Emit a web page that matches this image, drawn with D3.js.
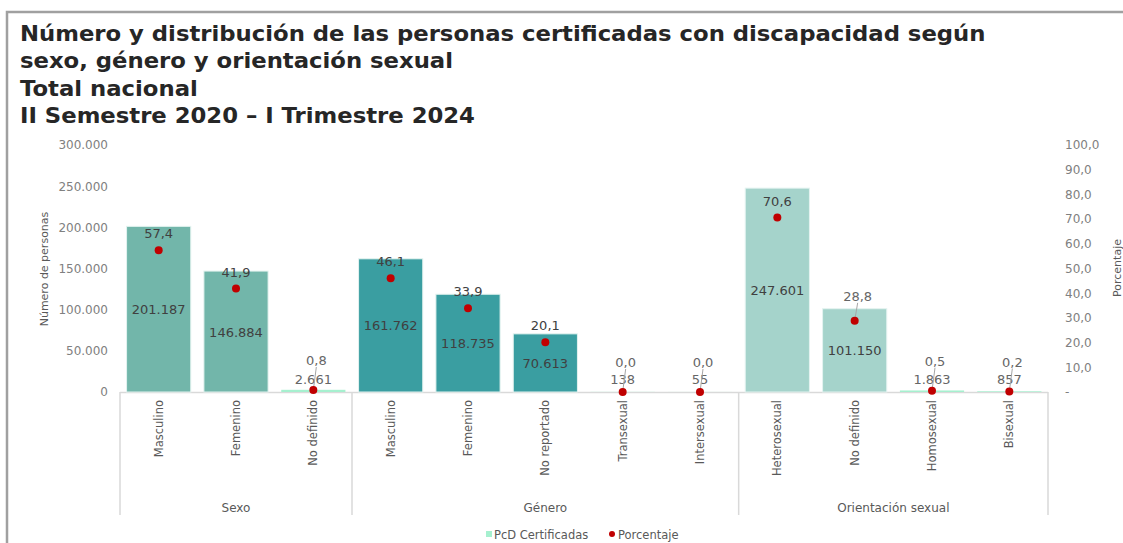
<!DOCTYPE html>
<html>
<head>
<meta charset="utf-8">
<script src="https://cdn.jsdelivr.net/npm/d3@7"></script>
<style>
  body { margin: 0; background: #fff; }
  svg { display: block; font-family: "DejaVu Sans", Verdana, sans-serif; }
</style>
</head>
<body>
<svg id="chart" width="1123" height="543"></svg>
<script>
// datos
var titleLines = [
  "Número y distribución de las personas certificadas con discapacidad según",
  "sexo, género y orientación sexual",
  "Total nacional",
  "II Semestre 2020 – I Trimestre 2024"
]
var groups = ["Sexo", "Género", "Orientación sexual"]
var categories = ["Masculino", "Femenino", "No definido",
  "Masculino", "Femenino", "No reportado", "Transexual", "Intersexual",
  "Heterosexual", "No definido", "Homosexual", "Bisexual"]
var categoryGroup = ["Sexo", "Sexo", "Sexo",
  "Género", "Género", "Género", "Género", "Género",
  "Orientación sexual", "Orientación sexual", "Orientación sexual", "Orientación sexual"]
var personas = [201187, 146884, 2661, 161762, 118735, 70613, 138, 55, 247601, 101150, 1863, 857]
var porcentaje = [57.4, 41.9, 0.8, 46.1, 33.9, 20.1, 0.0, 0.0, 70.6, 28.8, 0.5, 0.2]
var leftTicks = [0, 50000, 100000, 150000, 200000, 250000, 300000]
var rightTicks = [0, 10, 20, 30, 40, 50, 60, 70, 80, 90, 100]
var seriesNames = ["PcD Certificadas", "Porcentaje"]

var svg = d3.select("#chart")
var W = 1123, H = 543
var plotLeft = 120, plotRight = 1048, plotTop = 145, plotBottom = 392

var loc = d3.formatLocale({decimal: ",", thousands: ".", grouping: [3], currency: ["", ""]})
var fmtInt = loc.format(",d")
var fmtPct = loc.format(".1f")

var groupColor = {"Sexo": "#72b6aa", "Género": "#3a9ea1", "Orientación sexual": "#a5d3cb"}
var defaultColor = "#a6f0cf"
var labelGray = "#404040"
var axisGray = "#808080"
var lineGray = "#d9d9d9"

// marco
svg.append("path")
  .attr("d", "M7," + H + " L7,12 L" + W + ",12")
  .attr("fill", "none").attr("stroke", "#a0a0a0").attr("stroke-width", 2.5)

// titulo (Verdana es mas ancha que DejaVu, se estira un poco)
svg.append("g").attr("transform", "translate(20,0) scale(1.11,1)")
  .selectAll("text").data(titleLines).enter().append("text")
  .attr("x", 0)
  .attr("y", function(d, i) { return 41 + i * 27.4 })
  .attr("font-size", 20.5).attr("font-weight", "bold").attr("fill", "#262626")
  .text(function(d) { return d })

var x = d3.scaleBand().domain(d3.range(categories.length)).range([plotLeft, plotRight])
  .paddingInner(0.17).paddingOuter(0.085)
var y = d3.scaleLinear().domain([0, 300000]).range([plotBottom, plotTop])
var y2 = d3.scaleLinear().domain([0, 100]).range([plotBottom, plotTop])

// ejes
var yAxis = svg.append("g").attr("transform", "translate(" + (plotLeft - 12) + ",0)")
  .call(d3.axisLeft(y).tickValues(leftTicks).tickSize(0).tickPadding(0)
    .tickFormat(function(d) { return d === 0 ? "0" : fmtInt(d) }))
yAxis.select(".domain").remove()
yAxis.selectAll("text").attr("font-size", 12).attr("fill", axisGray).attr("font-family", "DejaVu Sans")

var y2Axis = svg.append("g").attr("transform", "translate(1065,0)")
  .call(d3.axisRight(y2).tickValues(rightTicks).tickSize(0).tickPadding(0)
    .tickFormat(function(d) { return d === 0 ? "-" : fmtPct(d) }))
y2Axis.select(".domain").remove()
y2Axis.selectAll("text").attr("font-size", 12).attr("fill", axisGray).attr("font-family", "DejaVu Sans")

svg.append("text").attr("transform", "translate(48,269) rotate(-90)")
  .attr("text-anchor", "middle").attr("font-size", 11).attr("fill", "#595959")
  .text("Número de personas")
svg.append("text").attr("transform", "translate(1121,268) rotate(-90)")
  .attr("text-anchor", "middle").attr("font-size", 11).attr("fill", "#595959")
  .text("Porcentaje")

// linea base y separadores de grupos
svg.append("line").attr("x1", plotLeft).attr("x2", plotRight)
  .attr("y1", plotBottom + 0.5).attr("y2", plotBottom + 0.5)
  .attr("stroke", lineGray).attr("stroke-width", 1.5)

var groupSpans = groups.map(function(g) {
  var idx = d3.range(categories.length).filter(function(i) { return categoryGroup[i] === g })
  var s = x(idx[0]) - x.step() * x.paddingInner() / 2
  var e = x(idx[idx.length - 1]) + x.bandwidth() + x.step() * x.paddingInner() / 2
  return {name: g, x0: s, x1: e}
})
var seps = [groupSpans[0].x0].concat(groupSpans.map(function(d) { return d.x1 }))
svg.append("g").selectAll("line").data(seps).enter().append("line")
  .attr("x1", function(d) { return d }).attr("x2", function(d) { return d })
  .attr("y1", plotBottom).attr("y2", 515)
  .attr("stroke", lineGray).attr("stroke-width", 1.5)

svg.append("g").selectAll("text").data(groupSpans).enter().append("text")
  .attr("x", function(d) { return (d.x0 + d.x1) / 2 })
  .attr("y", 512).attr("text-anchor", "middle")
  .attr("font-size", 12).attr("fill", "#595959")
  .text(function(d) { return d.name })

// etiquetas de categoria
svg.append("g").selectAll("text").data(categories).enter().append("text")
  .attr("transform", function(d, i) {
    return "translate(" + (x(i) + x.bandwidth() / 2 + 4) + "," + (plotBottom + 8) + ") rotate(-90)"
  })
  .attr("text-anchor", "end").attr("font-size", 11.5).attr("fill", "#595959")
  .text(function(d) { return d })

// barras
function small(i) { return personas[i] < 5000 }
function barColor(i) {
  return small(i) ? defaultColor : groupColor[categoryGroup[i]]
}
svg.append("g").selectAll("rect").data(personas).enter().append("rect")
  .attr("x", function(d, i) { return x(i) })
  .attr("width", x.bandwidth())
  .attr("y", function(d) { return y(d) })
  .attr("height", function(d) { return plotBottom - y(d) })
  .attr("fill", function(d, i) { return barColor(i) })
  .attr("stroke", function(d, i) { return small(i) ? "none" : "#e4f3f0" })
  .attr("stroke-width", 1)

// valores de barras
svg.append("g").selectAll("text").data(personas).enter().append("text")
  .attr("x", function(d, i) { return x(i) + x.bandwidth() / 2 })
  .attr("y", function(d, i) {
    return small(i) ? plotBottom - 8 : (y(d) + plotBottom) / 2 + 5
  })
  .attr("text-anchor", "middle").attr("font-size", 13)
  .attr("fill", function(d, i) { return small(i) ? "#666" : labelGray })
  .text(function(d) { return fmtInt(d) })

// puntos de porcentaje
function pctLift(i) {
  if (small(i)) return 30
  if (categories[i] === "No definido" && categoryGroup[i] === "Orientación sexual") return 25
  return 17
}
function needsLeader(i) { return pctLift(i) > 17 }

var leaderIdx = d3.range(porcentaje.length).filter(needsLeader)
svg.append("g").selectAll("line").data(leaderIdx).enter().append("line")
  .attr("x1", function(i) { return x(i) + x.bandwidth() / 2 })
  .attr("y1", function(i) { return y2(porcentaje[i]) })
  .attr("x2", function(i) { return x(i) + x.bandwidth() / 2 + 3 })
  .attr("y2", function(i) { return y2(porcentaje[i]) - pctLift(i) + 7 })
  .attr("stroke", "#a6a6a6").attr("stroke-width", 1)

svg.append("g").selectAll("circle").data(porcentaje).enter().append("circle")
  .attr("cx", function(d, i) { return x(i) + x.bandwidth() / 2 })
  .attr("cy", function(d) { return y2(d) })
  .attr("r", 4).attr("fill", "#c00000")

svg.append("g").selectAll("text").data(porcentaje).enter().append("text")
  .attr("x", function(d, i) { return x(i) + x.bandwidth() / 2 + (needsLeader(i) ? 3 : 0) })
  .attr("y", function(d, i) { return y2(d) - pctLift(i) + 5 })
  .attr("text-anchor", "middle").attr("font-size", 13)
  .attr("fill", function(d, i) { return needsLeader(i) ? "#666" : labelGray })
  .text(function(d) { return fmtPct(d) })

// leyenda
var legend = svg.append("g").attr("transform", "translate(486,535)")
legend.append("rect").attr("x", 0).attr("y", -4).attr("width", 6).attr("height", 6).attr("fill", defaultColor)
legend.append("text").attr("x", 8).attr("y", 4).attr("font-size", 11.5).attr("fill", "#595959").text(seriesNames[0])
legend.append("circle").attr("cx", 126).attr("cy", -1).attr("r", 3).attr("fill", "#c00000")
legend.append("text").attr("x", 132).attr("y", 4).attr("font-size", 11.5).attr("fill", "#595959").text(seriesNames[1])
</script>
</body>
</html>
